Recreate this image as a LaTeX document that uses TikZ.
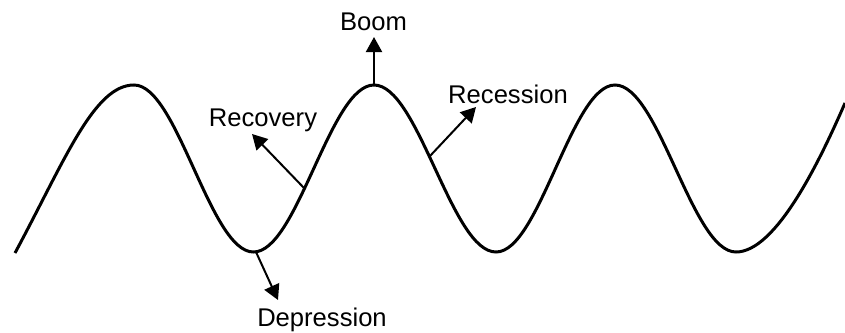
\documentclass[tikz,border=0pt]{standalone}
\usepackage{fontspec}
\setmainfont{Liberation Sans}
\usetikzlibrary{arrows.meta}
\tikzset{
  wave/.style={line width=3pt, black},
  pointer/.style={line width=2pt, black, -{Triangle[length=15pt,width=16pt]}},
  lbl/.style={font=\fontsize{25.6}{30}\selectfont, inner sep=0pt, anchor=base}
}
\begin{document}
\begin{tikzpicture}[x=1pt, y=-1pt]
\useasboundingbox (0,0) rectangle (845,332);
\draw[wave] (15,253) .. controls (65,160) and (94,85) .. (134,85)
  cos (193.75,168.5) sin (253.5,252) cos (313.75,168.5) sin (374,85)
  cos (435,168.5) sin (496,252) cos (555.5,168.5) sin (615,85)
  cos (675.5,168.5) sin (736,252)
  .. controls (776,252) and (820,160.5) .. (845,103);
\coordinate (pk) at (374,85);
\coordinate (pkend) at (374,37);
\coordinate (rc) at (304,188);
\coordinate (rcend) at (252,134);
\coordinate (rs) at (430,156);
\coordinate (rsend) at (476,107);
\coordinate (tr) at (256,252);
\coordinate (trend) at (278,300);
\node[lbl] (boom) at (373.5,30) {Boom};
\node[lbl] (recovery) at (263,126) {Recovery};
\node[lbl] (recession) at (508,103) {Recession};
\node[lbl] (depression) at (322,326) {Depression};
\draw[pointer] (pk) -- (pkend);
\draw[pointer] (rc) -- (rcend);
\draw[pointer] (rs) -- (rsend);
\draw[pointer] (tr) -- (trend);
\end{tikzpicture}
\end{document}
